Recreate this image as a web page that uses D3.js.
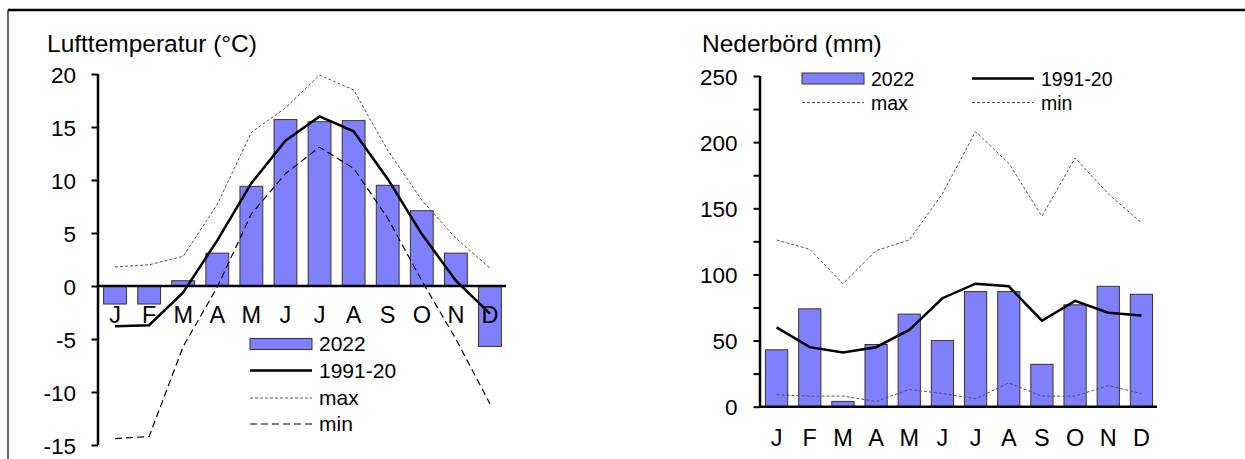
<!DOCTYPE html>
<html>
<head>
<meta charset="utf-8">
<script src="https://cdn.jsdelivr.net/npm/d3@7"></script>
<style>
  body { margin: 0; background: #fff; }
  text { font-family: "Liberation Sans", Arial, sans-serif; fill: #000; }
</style>
</head>
<body>
<script>
var months = ["J","F","M","A","M","J","J","A","S","O","N","D"];

// Lufttemperatur (°C)
var temp2022 = [-1.7, -1.7, 0.5, 3.1, 9.4, 15.7, 15.5, 15.6, 9.5, 7.1, 3.1, -5.7];
var tempNorm = [-3.8, -3.7, -0.6, 4.3, 9.7, 13.7, 16.0, 14.6, 10.1, 4.9, 0.5, -2.6];
var tempMax  = [1.8, 2.0, 2.8, 7.7, 14.5, 16.8, 19.9, 18.5, 12.8, 8.1, 4.5, 1.7];
var tempMin  = [-14.4, -14.2, -5.7, -0.1, 6.8, 10.6, 13.1, 11.1, 6.4, 0.5, -5.0, -11.1];
var tempTicks = [-15, -10, -5, 0, 5, 10, 15, 20];

// Nederbörd (mm)
var prec2022 = [43, 74, 4, 47, 70, 50, 87, 87, 32, 77, 91, 85];
var precNorm = [60, 45, 41, 45, 58, 82, 93, 91, 65, 80, 71, 69];
var precMax  = [126, 119, 93, 118, 126, 161, 208, 184, 144, 188, 161, 139];
var precMin  = [9, 8, 8, 4, 13, 10, 6, 18, 8, 8, 16, 10];
var precTicks = [0, 25, 50, 75, 100, 125, 150, 175, 200, 225, 250];

var W = 1245, H = 459;
var barFill = "#8080ff";

var svg = d3.select("body").append("svg")
    .attr("width", W)
    .attr("height", H);

// ram
svg.append("line").attr("x1", 8).attr("x2", W).attr("y1", 10).attr("y2", 10)
    .attr("stroke", "#000").attr("stroke-width", 2.5);
svg.append("line").attr("x1", 8).attr("x2", 8).attr("y1", 10).attr("y2", H)
    .attr("stroke", "#333").attr("stroke-width", 1.5);

var idx = d3.range(12);

function drawChart(o) {
    var g = svg.append("g");

    var x = d3.scaleBand()
        .domain(idx)
        .range([o.x0, o.x1])
        .paddingInner(0.33)
        .paddingOuter(0.165);
    var y = d3.scaleLinear().domain(o.domain).range([o.yBottom, o.yTop]);
    var cx = i => x(i) + x.bandwidth() / 2;

    g.append("text")
        .attr("x", o.titleX).attr("y", 52)
        .style("font-size", "24.5px")
        .text(o.title);

    // staplar
    g.selectAll("rect.bar")
        .data(o.bars)
        .join("rect")
        .attr("class", "bar")
        .attr("x", (d, i) => x(i))
        .attr("width", x.bandwidth())
        .attr("y", d => y(Math.max(0, d)))
        .attr("height", d => Math.abs(y(d) - y(0)))
        .attr("fill", barFill)
        .attr("stroke", "#333")
        .attr("stroke-width", 1);

    var line = d3.line().x((d, i) => cx(i)).y(d => y(d));

    o.lines.forEach(l => {
        g.append("path")
            .attr("d", line(l.data))
            .attr("fill", "none")
            .attr("stroke", l.color)
            .attr("stroke-width", l.width)
            .attr("stroke-dasharray", l.dash);
    });

    // y-axel
    var ax = g.append("g")
        .attr("transform", `translate(${o.x0},0)`)
        .call(d3.axisLeft(y).tickValues(o.ticks).tickSize(6.5).tickPadding(o.tickPad)
            .tickFormat(d => o.labelTicks.indexOf(d) >= 0 ? d : ""));
    ax.select(".domain").attr("stroke-width", 2.5).attr("d", `M0,${y(o.domain[0])}V${y(o.domain[1])}`);
    ax.selectAll(".tick line").attr("stroke-width", 2);
    ax.selectAll(".tick text")
        .style("font-size", "22.5px")
        .style("font-family", '"Liberation Sans", Arial, sans-serif')
        .attr("dy", "0.36em");

    // nollinje
    g.append("line")
        .attr("x1", o.x0).attr("x2", o.x1 - 1)
        .attr("y1", y(0)).attr("y2", y(0))
        .attr("stroke", "#000").attr("stroke-width", 2.5);

    // månader
    g.selectAll("text.month")
        .data(months)
        .join("text")
        .attr("class", "month")
        .attr("x", (d, i) => cx(i))
        .attr("y", o.monthY)
        .attr("text-anchor", "middle")
        .style("font-size", "23.5px")
        .text(d => d);

    // legend
    o.legend.forEach(l => {
        if (l.type === "bar") {
            g.append("rect")
                .attr("x", l.x).attr("y", l.y - 5.5)
                .attr("width", 62).attr("height", 11)
                .attr("fill", barFill).attr("stroke", "#333").attr("stroke-width", 1);
        } else {
            g.append("line")
                .attr("x1", l.x).attr("x2", l.x + 62)
                .attr("y1", l.y).attr("y2", l.y)
                .attr("stroke", l.color).attr("stroke-width", l.width)
                .attr("stroke-dasharray", l.dash);
        }
        g.append("text")
            .attr("x", l.x + 69).attr("y", l.y + 7)
            .style("font-size", o.legendFont)
            .text(l.label);
    });
}

drawChart({
    title: "Lufttemperatur (°C)",
    titleX: 47,
    x0: 98, x1: 507,
    domain: [-15, 20], yBottom: 445, yTop: 74,
    ticks: tempTicks, labelTicks: tempTicks, tickPad: 15.5,
    monthY: 323,
    bars: temp2022,
    legendFont: "21px",
    lines: [
        {data: tempMax, color: "#555", width: 1, dash: "3,2"},
        {data: tempMin, color: "#000", width: 1.2, dash: "7,4"},
        {data: tempNorm, color: "#000", width: 2.5, dash: null}
    ],
    legend: [
        {type: "bar", x: 250, y: 344, label: "2022"},
        {type: "line", x: 250, y: 370.5, label: "1991-20", color: "#000", width: 2.5, dash: null},
        {type: "line", x: 250, y: 398, label: "max", color: "#555", width: 1, dash: "3,2"},
        {type: "line", x: 250, y: 424, label: "min", color: "#000", width: 1.2, dash: "7,4"}
    ]
});

drawChart({
    title: "Nederbörd (mm)",
    titleX: 702,
    x0: 760, x1: 1158,
    domain: [0, 250], yBottom: 406.7, yTop: 76,
    ticks: precTicks, labelTicks: [0, 50, 100, 150, 200, 250], tickPad: 16,
    monthY: 446,
    bars: prec2022,
    legendFont: "19.5px",
    lines: [
        {data: precMax, color: "#555", width: 1, dash: "3,2"},
        {data: precMin, color: "#555", width: 1, dash: "3,2"},
        {data: precNorm, color: "#000", width: 2.5, dash: null}
    ],
    legend: [
        {type: "bar", x: 802, y: 78.5, label: "2022"},
        {type: "line", x: 972, y: 78.5, label: "1991-20", color: "#000", width: 2.5, dash: null},
        {type: "line", x: 802, y: 102.5, label: "max", color: "#555", width: 1, dash: "3,2"},
        {type: "line", x: 972, y: 102.5, label: "min", color: "#555", width: 1, dash: "3,2"}
    ]
});
</script>
</body>
</html>
